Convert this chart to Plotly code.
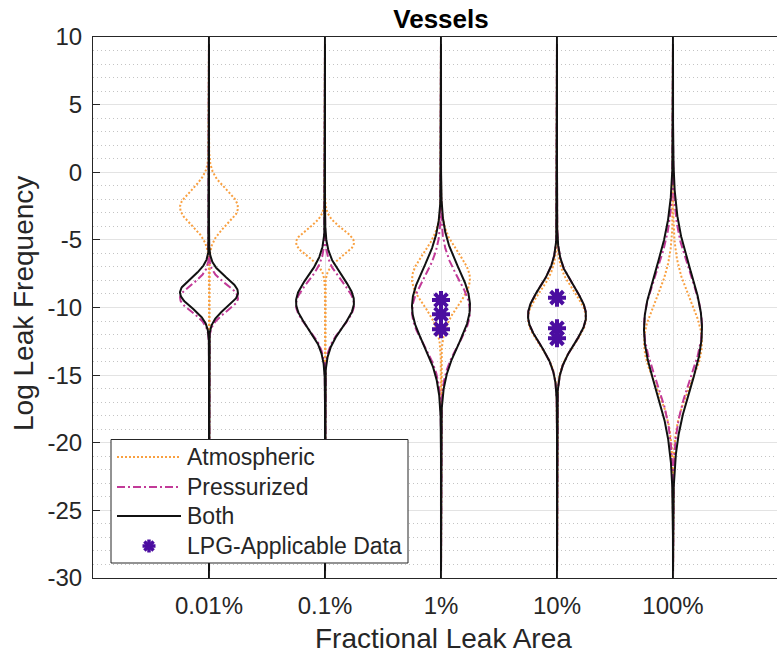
import numpy as np
import plotly.graph_objects as go

# Fractional leak area categories
categories = ["0.01%", "0.1%", "1%", "10%", "100%"]

# Distribution of log leak frequency per category: mean and standard deviation
atmos_mean = [-2.6, -5.2, -7.9, -10.8, -12.6]
atmos_sd = [1.3, 1.0, 1.9, 1.9, 3.1]
press_mean = [-9.3, -9.8, -10.3, -10.6, -11.4]
press_sd = [1.0, 1.65, 2.4, 2.05, 3.8]
both_mean = [-8.9, -9.6, -9.9, -10.6, -11.6]
both_sd = [1.1, 1.85, 2.8, 2.05, 4.3]

# LPG-applicable observations (category, log frequency)
lpg_category = ["1%", "1%", "1%", "10%", "10%", "10%"]
lpg_value = [-9.45, -10.5, -11.6, -9.27, -11.54, -12.28]

y_ticks = [-30, -25, -20, -15, -10, -5, 0, 5, 10]
y_tick_text = ["-30", "-25", "-20", "-15", "-10", "-5", "0", "5", "10"]
y_range = [-30, 10]
half_width = 0.25  # violin half-width at the density peak (x units)

FONT = "Liberation Sans, Arial, Helvetica, sans-serif"
TXT = "#262626"
MARKER_COLOR = "#4B0DA0"

# plot area in pixels
W, H = 777, 659
L, R, T, B = 93, 777, 37, 578

series = [
    ("Atmospheric", atmos_mean, atmos_sd, dict(color="#F9A040", width=2, dash="2px,2px")),
    ("Pressurized", press_mean, press_sd, dict(color="#C23A98", width=2, dash="8px,3px,2px,3px")),
    ("Both", both_mean, both_sd, dict(color="#111111", width=2, dash="solid")),
]

y_grid = np.linspace(y_range[0], y_range[1], 801)

fig = go.Figure()
for name, means, sds, line in series:
    for i, (mu, sd) in enumerate(zip(means, sds)):
        centre = i + 1
        dens = np.exp(-0.5 * ((y_grid - mu) / sd) ** 2)  # scaled so peak = 1
        xs = np.concatenate([centre + half_width * dens, (centre - half_width * dens)[::-1]])
        ys = np.concatenate([y_grid, y_grid[::-1]])
        fig.add_trace(go.Scatter(
            x=xs, y=ys, mode="lines", line=line, name=name,
            showlegend=False, hoverinfo="skip",
        ))

lpg_x = [categories.index(c) + 1 for c in lpg_category]
fig.add_trace(go.Scatter(
    x=lpg_x, y=lpg_value, mode="markers", name="LPG-Applicable Data", showlegend=False,
    marker=dict(symbol="asterisk-open", size=15, color=MARKER_COLOR,
                line=dict(color=MARKER_COLOR, width=4)),
))


def px(xp):
    return (xp - L) / (R - L)


def py(yp):
    return (B - yp) / (B - T)


# legend box, drawn above the plotted curves
fig.add_shape(type="rect", xref="paper", yref="paper", layer="above",
              x0=px(111), x1=px(408), y0=py(563), y1=py(439.5),
              fillcolor="white", line=dict(color=TXT, width=1))
legend_rows = [457, 487, 516, 546]
for (name, _, _, line), yr in zip(series, legend_rows):
    fig.add_shape(type="line", xref="paper", yref="paper", layer="above",
                  x0=px(117), x1=px(181), y0=py(yr), y1=py(yr),
                  line=dict(color=line["color"], width=2, dash=line["dash"]))
legend_labels = [s[0] for s in series] + ["LPG-Applicable Data"]
for label, yr in zip(legend_labels, legend_rows):
    fig.add_annotation(text=label, xref="paper", yref="paper", x=px(185), y=py(yr),
                       xanchor="left", yanchor="middle", showarrow=False,
                       font=dict(size=23, color=TXT, family=FONT))
# asterisk glyph for the data-point legend entry
cx, cy, rr = 149, legend_rows[3], 6.5
for ang in (0, 45, 90, 135):
    dx, dy = rr * np.cos(np.radians(ang)), rr * np.sin(np.radians(ang))
    fig.add_shape(type="line", xref="paper", yref="paper", layer="above",
                  x0=px(cx - dx), x1=px(cx + dx), y0=py(cy - dy), y1=py(cy + dy),
                  line=dict(color=MARKER_COLOR, width=3.5))

fig.update_layout(
    width=W, height=H,
    margin=dict(l=L, r=W - R, t=T, b=H - B),
    plot_bgcolor="white", paper_bgcolor="white",
    font=dict(family=FONT, color=TXT),
    showlegend=False,
    title=dict(text="<b>Vessels</b>", x=441 / W, xref="container", xanchor="center",
               y=1 - 19 / H, yref="container", yanchor="middle",
               font=dict(size=26, color="black", family=FONT)),
)

fig.update_xaxes(
    range=[0, (R - L) / 116], tickvals=list(range(1, len(categories) + 1)), ticktext=categories,
    showline=True, linecolor=TXT, linewidth=1, mirror="ticks",
    ticks="inside", ticklen=7, tickcolor=TXT,
    tickfont=dict(size=24, color=TXT), ticklabelstandoff=6,
    showgrid=True, gridcolor="#E3E3E3", gridwidth=1, zeroline=False,
)
fig.update_yaxes(
    range=y_range, tickvals=y_ticks, ticktext=y_tick_text,
    showline=True, linecolor=TXT, linewidth=1, mirror=False,
    ticks="inside", ticklen=7, tickcolor=TXT,
    tickfont=dict(size=24, color=TXT), ticklabelstandoff=5,
    showgrid=True, gridcolor="#E3E3E3", gridwidth=1, zeroline=False,
    minor=dict(dtick=1, showgrid=True, gridcolor="#C4C4C4", griddash="1px,3px", gridwidth=1),
)

fig.add_annotation(text="Fractional Leak Area", xref="paper", yref="paper",
                   x=px(443), y=py(638), xanchor="center", yanchor="middle",
                   showarrow=False, font=dict(size=28, color=TXT, family=FONT))
fig.add_annotation(text="Log Leak Frequency", xref="paper", yref="paper",
                   x=px(23), y=py(304), xanchor="center", yanchor="middle",
                   textangle=-90, showarrow=False, font=dict(size=28, color=TXT, family=FONT))

fig.write_html("out.html")
